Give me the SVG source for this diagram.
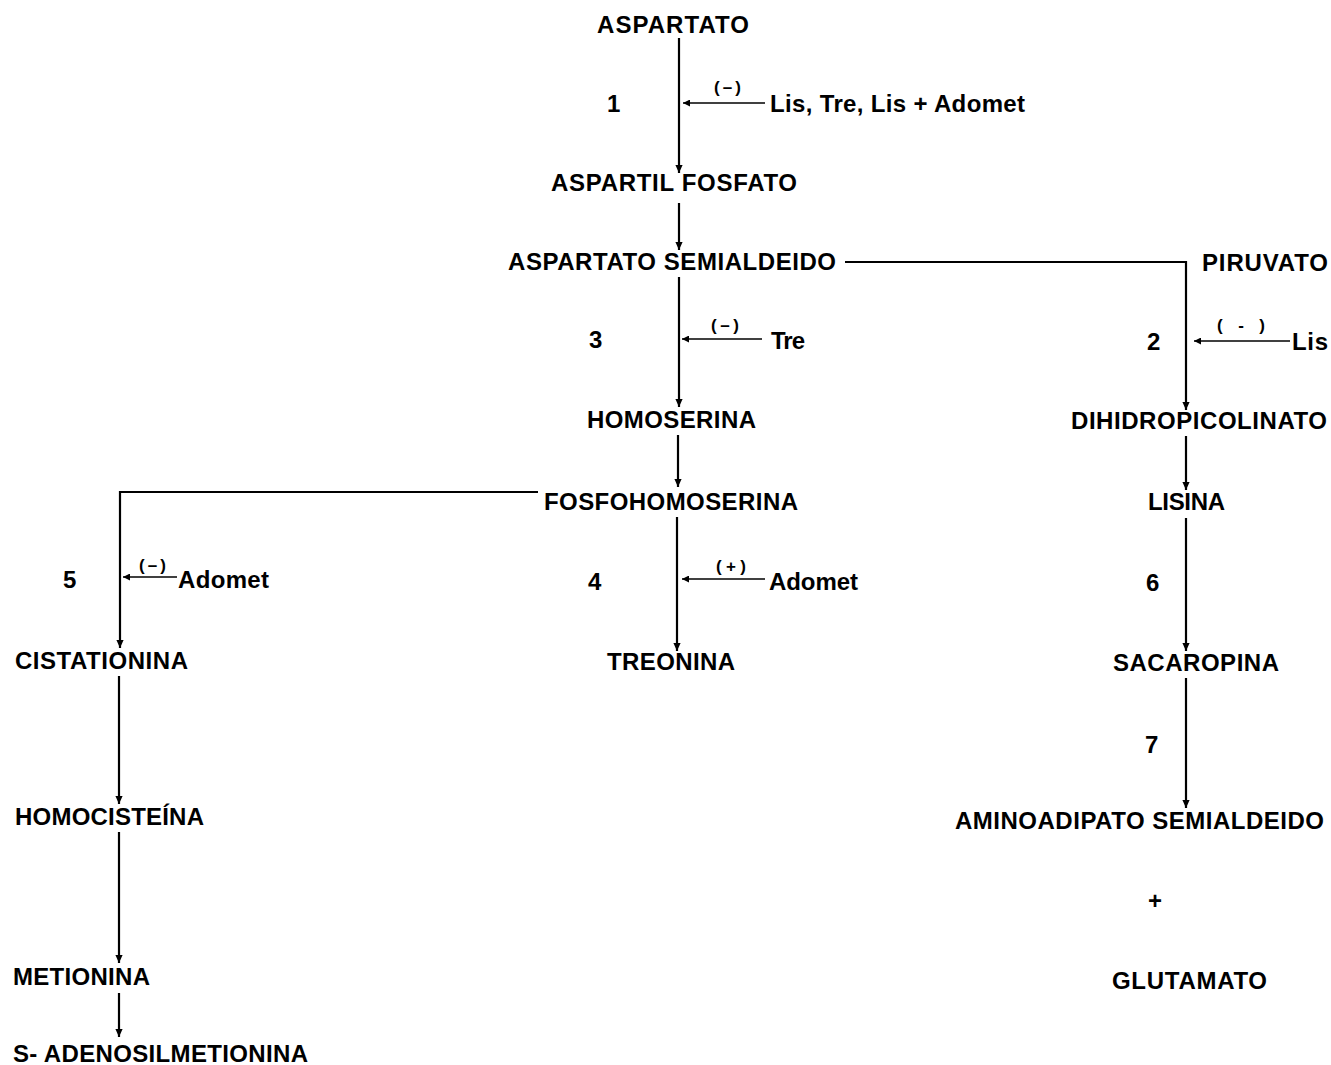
<svg xmlns="http://www.w3.org/2000/svg" width="1331" height="1065" viewBox="0 0 1331 1065">
<defs>
<marker id="ah" viewBox="0 0 10 10" refX="10" refY="5" markerWidth="8" markerHeight="12" markerUnits="userSpaceOnUse" orient="auto"><path d="M0,0.5 L10,5 L0,9.5 z" fill="#000"/></marker>
<marker id="ahs" viewBox="0 0 10 10" refX="10" refY="5" markerWidth="11" markerHeight="7" markerUnits="userSpaceOnUse" orient="auto"><path d="M0,0 L10,5 L0,10 z" fill="#000"/></marker>
<style>
text{font-family:"Liberation Sans",Arial,sans-serif;font-weight:bold;fill:#000}
.n{font-size:24px}
.s{font-size:17px}
.l{fill:none;stroke:#000;stroke-width:2.2}
.a{marker-end:url(#ah)}
.i{fill:none;stroke:#000;stroke-width:1.7;marker-end:url(#ahs)}
</style>
</defs>
<rect width="1331" height="1065" fill="#fff"/>
<g id="connectors">
<line class="l a" x1="679" y1="38" x2="679" y2="173"/>
<line class="l a" x1="679" y1="203" x2="679" y2="250"/>
<line class="l a" x1="679" y1="277" x2="679" y2="407"/>
<line class="l a" x1="678" y1="435" x2="678" y2="487"/>
<line class="l a" x1="677" y1="517" x2="677" y2="651"/>
<polyline class="l a" points="845,262 1186,262 1186,410"/>
<line class="l a" x1="1186" y1="436" x2="1186" y2="490"/>
<line class="l a" x1="1186" y1="518" x2="1186" y2="651"/>
<line class="l a" x1="1186" y1="678" x2="1186" y2="808"/>
<polyline class="l a" points="538,492 120,492 120,648"/>
<line class="l a" x1="119" y1="676" x2="119" y2="804"/>
<line class="l a" x1="119" y1="832" x2="119" y2="963"/>
<line class="l a" x1="119" y1="993" x2="119" y2="1037"/>
<line class="i" x1="765" y1="103" x2="683" y2="103"/>
<line class="i" x1="762" y1="339" x2="682" y2="339"/>
<line class="i" x1="1290" y1="341" x2="1194" y2="341"/>
<line class="i" x1="765" y1="579" x2="682" y2="579"/>
<line class="i" x1="177" y1="577" x2="123" y2="577"/>
</g>
<g id="n-aspartato"><text class="n" x="597" y="33" textLength="152" lengthAdjust="spacing">ASPARTATO</text></g>
<g id="e1"><text class="n" x="607" y="112">1</text></g>
<g id="inh1"><text class="s" x="714" y="93" textLength="27" lengthAdjust="spacing">(–)</text><text class="n" x="770" y="112" textLength="255" lengthAdjust="spacing">Lis, Tre, Lis + Adomet</text></g>
<g id="n-aspartilfosfato"><text class="n" x="551" y="191" textLength="246" lengthAdjust="spacing">ASPARTIL FOSFATO</text></g>
<g id="n-aspsemialdeido"><text class="n" x="508" y="270" textLength="328" lengthAdjust="spacing">ASPARTATO SEMIALDEIDO</text></g>
<g id="n-piruvato"><text class="n" x="1202" y="271" textLength="126" lengthAdjust="spacing">PIRUVATO</text></g>
<g id="e3"><text class="n" x="589" y="348">3</text></g>
<g id="inh3"><text class="s" x="711" y="331" textLength="28" lengthAdjust="spacing">(–)</text><text class="n" x="771" y="349" textLength="34" lengthAdjust="spacing">Tre</text></g>
<g id="e2"><text class="n" x="1147" y="350">2</text></g>
<g id="inh2"><text class="s" x="1217" y="331" textLength="48" lengthAdjust="spacing">( - )</text><text class="n" x="1292" y="350" textLength="36" lengthAdjust="spacing">Lis</text></g>
<g id="n-homoserina"><text class="n" x="587" y="428" textLength="169" lengthAdjust="spacing">HOMOSERINA</text></g>
<g id="n-dihidropicolinato"><text class="n" x="1071" y="429" textLength="256" lengthAdjust="spacing">DIHIDROPICOLINATO</text></g>
<g id="n-fosfohomoserina"><text class="n" x="544" y="510" textLength="254" lengthAdjust="spacing">FOSFOHOMOSERINA</text></g>
<g id="n-lisina"><text class="n" x="1148" y="510" textLength="77" lengthAdjust="spacing">LISINA</text></g>
<g id="e5"><text class="n" x="63" y="588">5</text></g>
<g id="inh5"><text class="s" x="139" y="571" textLength="27" lengthAdjust="spacing">(–)</text><text class="n" x="178" y="588" textLength="91" lengthAdjust="spacing">Adomet</text></g>
<g id="e4"><text class="n" x="588" y="590">4</text></g>
<g id="act4"><text class="s" x="716" y="572" textLength="30" lengthAdjust="spacing">(+)</text><text class="n" x="769" y="590" textLength="89" lengthAdjust="spacing">Adomet</text></g>
<g id="e6"><text class="n" x="1146" y="591">6</text></g>
<g id="n-cistationina"><text class="n" x="15" y="669" textLength="173" lengthAdjust="spacing">CISTATIONINA</text></g>
<g id="n-treonina"><text class="n" x="607" y="670" textLength="128" lengthAdjust="spacing">TREONINA</text></g>
<g id="n-sacaropina"><text class="n" x="1113" y="671" textLength="166" lengthAdjust="spacing">SACAROPINA</text></g>
<g id="e7"><text class="n" x="1145" y="753">7</text></g>
<g id="n-homocisteina"><text class="n" x="15" y="825" textLength="189" lengthAdjust="spacing">HOMOCISTEÍNA</text></g>
<g id="n-aminoadipato"><text class="n" x="955" y="829" textLength="369" lengthAdjust="spacing">AMINOADIPATO SEMIALDEIDO</text></g>
<g id="plus"><text class="n" x="1148" y="909">+</text></g>
<g id="n-metionina"><text class="n" x="13" y="985" textLength="137" lengthAdjust="spacing">METIONINA</text></g>
<g id="n-glutamato"><text class="n" x="1112" y="989" textLength="155" lengthAdjust="spacing">GLUTAMATO</text></g>
<g id="n-sam"><text class="n" x="13" y="1062" textLength="295" lengthAdjust="spacing">S- ADENOSILMETIONINA</text></g>
</svg>
